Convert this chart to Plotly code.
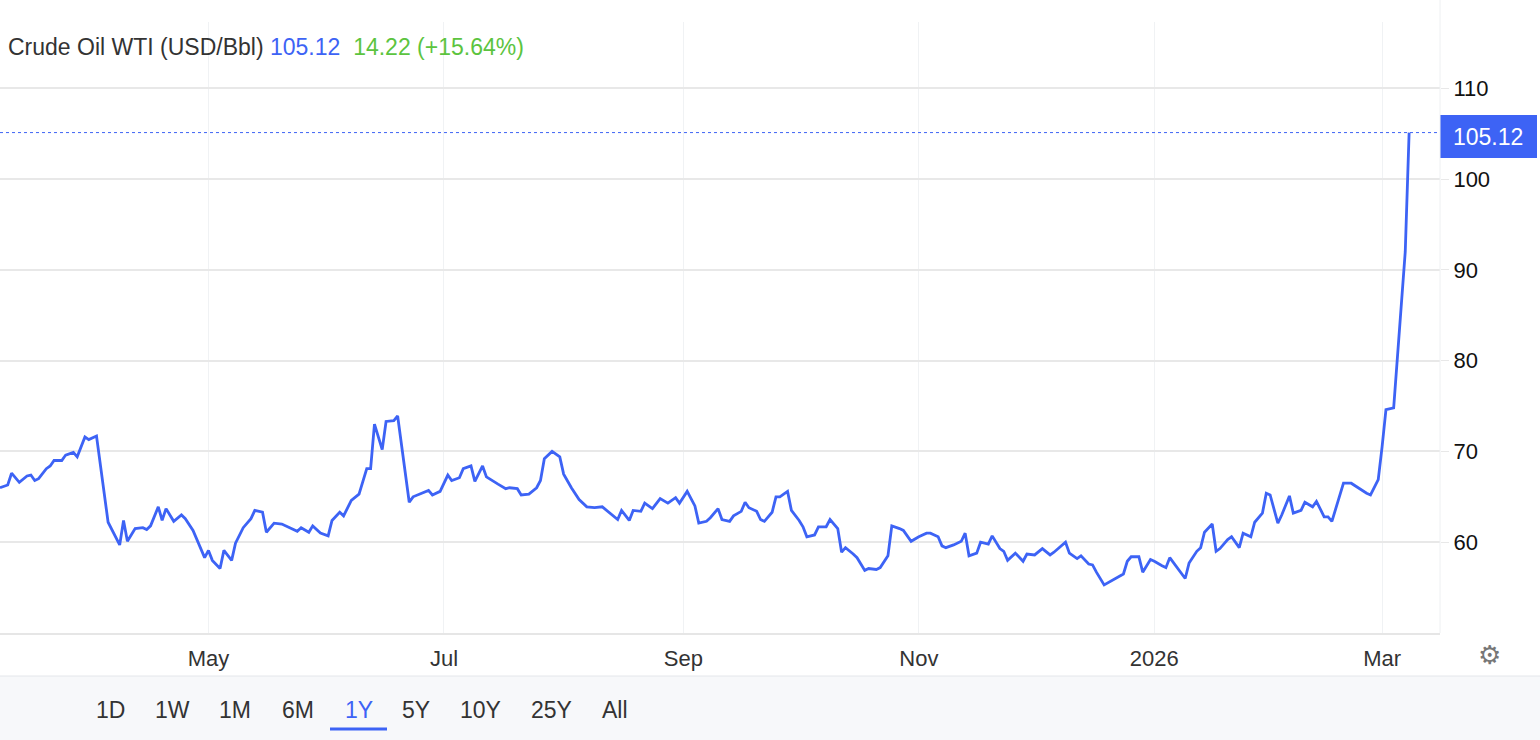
import pandas as pd
import plotly.graph_objects as go

start = pd.Timestamp("2025-03-08")
day_offsets = [0,2,3,5,7,8,9,10,12,13,14,16,17,19,20,22,23,25,28,31,32,33,35,37,38,39,41,42,43,45,47,48,50,52,53,54,55,57,58,60,61,63,65,66,68,69,71,73,75,77,78,80,81,83,85,86,88,89,91,93,95,96,97,99,100,102,103,106,107,110,111,112,114,116,117,119,120,122,123,125,126,129,131,132,134,135,137,139,140,141,143,145,146,148,150,152,154,156,158,160,161,163,164,166,167,169,171,173,175,176,178,180,181,183,184,186,187,189,190,192,193,194,196,197,198,200,201,202,204,205,207,208,209,211,212,214,215,217,218,219,221,222,224,225,227,228,230,231,233,234,236,237,238,240,241,243,244,245,247,249,250,251,253,254,256,257,259,260,261,263,265,266,268,270,272,273,275,276,277,279,280,282,283,284,286,288,289,291,292,293,295,296,298,299,301,302,303,305,307,308,310,311,312,314,315,316,318,319,321,322,324,325,327,328,329,331,332,334,335,337,338,340,341,343,344,345,347,348,350,351,353,354,355,357,358,359,361,362,364,365]
prices = [66.0,66.3,67.6,66.6,67.3,67.4,66.8,67.0,68.1,68.4,69.0,69.0,69.6,69.9,69.4,71.6,71.3,71.7,62.2,59.7,62.4,60.1,61.5,61.6,61.4,61.8,63.9,62.4,63.7,62.3,63.0,62.6,61.3,59.4,58.3,59.1,58.0,57.1,59.1,58.0,59.9,61.6,62.6,63.5,63.3,61.1,62.1,62.0,61.6,61.2,61.6,61.1,61.8,61.0,60.7,62.4,63.3,62.9,64.6,65.3,68.1,68.1,73.0,70.2,73.3,73.4,73.9,64.4,65.0,65.5,65.7,65.2,65.6,67.4,66.8,67.1,68.1,68.4,66.7,68.4,67.2,66.4,65.9,66.0,65.9,65.2,65.3,66.0,66.8,69.2,70.0,69.4,67.5,66.0,64.7,63.9,63.8,63.9,63.2,62.5,63.5,62.4,63.5,63.4,64.3,63.7,64.8,64.3,64.9,64.3,65.6,64.0,62.1,62.3,62.7,63.7,62.5,62.3,62.9,63.4,64.4,63.8,63.4,62.5,62.3,63.3,65.0,65.0,65.6,63.5,62.4,61.7,60.6,60.8,61.7,61.7,62.5,61.5,58.9,59.4,58.7,58.3,56.9,57.1,57.0,57.2,58.5,61.8,61.5,61.3,60.1,60.4,60.6,61.0,61.0,60.6,59.6,59.4,59.7,60.1,61.0,58.5,58.8,60.0,59.8,60.7,59.3,59.0,58.0,58.8,57.9,58.7,58.6,59.3,58.6,58.9,59.6,60.0,58.8,58.2,58.5,57.6,57.5,56.7,55.3,55.8,56.0,56.5,57.9,58.4,58.4,56.7,58.1,57.9,57.4,57.2,58.3,57.1,56.0,57.7,59.0,59.4,61.1,62.0,59.0,59.3,60.3,60.6,59.4,61.0,60.6,62.2,63.2,65.4,65.2,62.1,63.0,65.1,63.2,63.5,64.4,63.9,64.5,62.8,62.8,62.3,65.1,66.5,66.5,66.2,65.6,65.4,65.2,66.9,70.5,74.6,74.8,80.9,92.0,105.12]
last_price = 105.12
change_text = "14.22 (+15.64%)"
tick_dates = ["2025-05-01","2025-07-01","2025-09-01","2025-11-01","2026-01-01","2026-03-01"]
tick_labels = ["May","Jul","Sep","Nov","2026","Mar"]
y_ticks = [60,70,80,90,100,110]
buttons = ["1D","1W","1M","6M","1Y","5Y","10Y","25Y","All"]
button_px = [110,172,235,298,359,416,481,551,615]

dates = [start + pd.Timedelta(days=d) for d in day_offsets]
BLUE = "#3d63f5"
FONT = "Liberation Sans, Arial, sans-serif"
W, H = 1540, 740
L, R, T, B = 0, 100, 22, 107
PW, PH = W - L - R, H - T - B

def py(pix):  # pixel y -> paper y
    return 1 - (pix - T) / PH

fig = go.Figure(go.Scatter(x=dates, y=prices, mode="lines",
                           line=dict(color=BLUE, width=2.8), hoverinfo="skip"))

shapes = [
    dict(type="line", xref="paper", yref="y", x0=0, x1=1, y0=last_price, y1=last_price,
         line=dict(color=BLUE, width=1, dash="dot")),
    dict(type="rect", xref="paper", yref="paper", x0=1.0, x1=1537 / PW, y0=py(158), y1=py(115),
         fillcolor=BLUE, line=dict(width=0)),
    dict(type="rect", xref="paper", yref="paper", x0=0, x1=W / PW, y0=py(740), y1=py(676),
         fillcolor="#f7f8fa", line=dict(width=0), layer="below"),
    dict(type="line", xref="paper", yref="paper", x0=0, x1=W / PW, y0=py(676), y1=py(676),
         line=dict(color="#e4e6ea", width=1)),
    dict(type="line", xref="paper", yref="paper", x0=1, x1=1, y0=0, y1=py(0),
         line=dict(color="#eef0f2", width=1)),
    dict(type="line", xref="paper", yref="paper", x0=330 / PW, x1=387 / PW, y0=py(729), y1=py(729),
         line=dict(color=BLUE, width=3)),
]

annotations = [
    dict(xref="paper", yref="paper", x=6 / PW, y=py(47), xanchor="left", yanchor="middle",
         showarrow=False, font=dict(family=FONT, size=23, color="#333"),
         text=f"Crude Oil WTI (USD/Bbl) <span style='color:{BLUE}'>{last_price:.2f}</span>"
              f"  <span style='color:#5cc43f'>{change_text}</span>"),
    dict(xref="paper", yref="paper", x=1488 / PW, y=py(137), xanchor="center", yanchor="middle",
         showarrow=False, font=dict(family=FONT, size=23, color="white"), text=f"{last_price:.2f}"),
    dict(xref="paper", yref="paper", x=1489 / PW, y=py(655), xanchor="center", yanchor="middle",
         showarrow=False, font=dict(family="DejaVu Sans", size=26, color="#777"), text="⚙"),
]
for b, px in zip(buttons, button_px):
    annotations.append(dict(xref="paper", yref="paper", x=px / PW, y=py(710), xanchor="center",
                            yanchor="middle", showarrow=False, text=b,
                            font=dict(family=FONT, size=23, color=BLUE if b == "1Y" else "#333")))

fig.update_layout(
    width=W, height=H, margin=dict(l=L, r=R, t=T, b=B),
    paper_bgcolor="white", plot_bgcolor="white", showlegend=False,
    shapes=shapes, annotations=annotations,
    xaxis=dict(type="date", range=[start, start + pd.Timedelta(days=373)],
               tickvals=tick_dates, ticktext=tick_labels, showgrid=True, gridcolor="#f0f2f4",
               tickfont=dict(family=FONT, size=22, color="#333"), ticks="", showline=True,
               linecolor="#e6e6e6", linewidth=2, zeroline=False, ticklabelstandoff=5),
    yaxis=dict(side="right", range=[50, 117.3], tickvals=y_ticks, showgrid=True,
               gridcolor="#e8e8e8", gridwidth=1.5, ticks="outside", ticklen=8, tickcolor="#e8e8e8",
               tickfont=dict(family=FONT, size=22, color="#111"), zeroline=False, showline=False),
)
fig.write_html("out.html", config={"displayModeBar": False},
               post_script="document.body.style.margin='0';document.body.style.overflow='hidden';")
